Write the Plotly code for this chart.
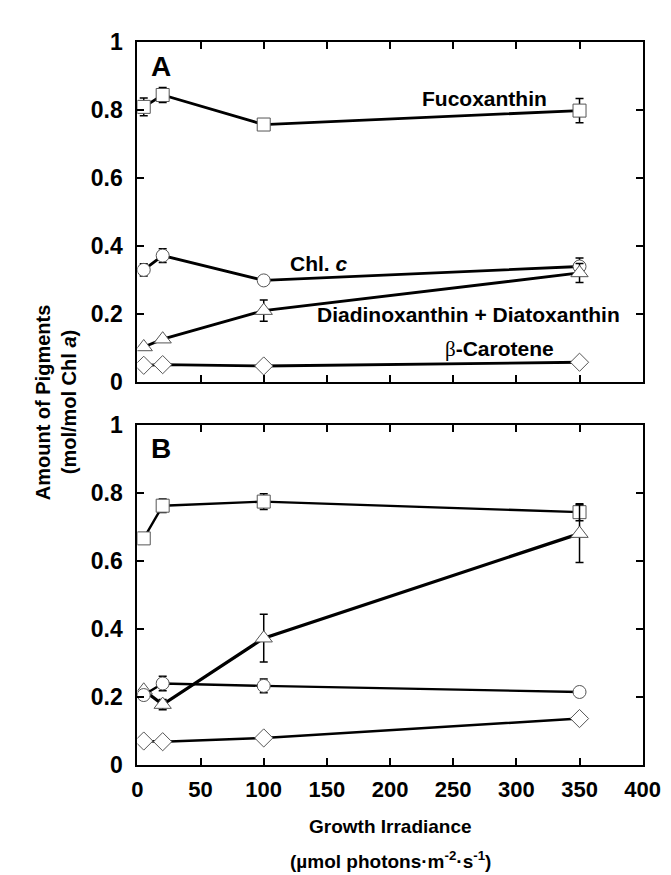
import plotly.graph_objects as go

irradiance = [5, 20, 100, 350]

# Panel A
a_fuco = [0.81, 0.845, 0.758, 0.799]
a_fuco_err = [0.026, 0.022, 0.0, 0.036]
a_chlc = [0.330, 0.372, 0.299, 0.340]
a_chlc_err = [0.018, 0.020, 0.0, 0.025]
a_dd = [0.103, 0.126, 0.210, 0.321]
a_dd_err = [0.0, 0.0, 0.031, 0.028]
a_beta = [0.049, 0.051, 0.047, 0.058]

# Panel B
b_fuco = [0.666, 0.762, 0.774, 0.743]
b_fuco_err = [0.0, 0.02, 0.023, 0.025]
b_dd = [0.220, 0.178, 0.373, 0.680]
b_dd_err = [0.0, 0.015, 0.07, 0.085]
b_chlc = [0.206, 0.240, 0.233, 0.215]
b_chlc_err = [0.0, 0.021, 0.02, 0.0]
b_beta = [0.071, 0.069, 0.080, 0.137]

FONT = "Liberation Sans, Arial, sans-serif"
W, H = 671, 875
xd = [128 / W, 652 / W]
yA = [1 - 372 / H, 1 - 22 / H]
yB = [1 - 767 / H, 1 - 416 / H]

fig = go.Figure()

def add(x, y, err, sym, size, axis, lw=2.8):
    xa, ya = axis
    kw = {}
    if err is not None:
        kw["error_y"] = dict(type="data", array=err, visible=True, color="black",
                             thickness=1.5, width=4)
    fig.add_trace(go.Scatter(
        x=x, y=y, mode="lines+markers", xaxis=xa, yaxis=ya,
        line=dict(color="black", width=lw),
        marker=dict(symbol=sym, size=size, color="white",
                    line=dict(color="#555555", width=1)),
        showlegend=False, **kw))

A = ("x", "y")
B = ("x2", "y2")
add(irradiance, a_fuco, a_fuco_err, "square", 13, A)
add(irradiance, a_chlc, a_chlc_err, "circle", 13, A)
add(irradiance, a_dd, a_dd_err, "triangle-up", 15, A)
add(irradiance, a_beta, None, "diamond", 14, A)

add(irradiance, b_fuco, b_fuco_err, "square", 13, B, 2.4)
add(irradiance, b_dd, b_dd_err, "triangle-up", 15, B, 3.2)
add(irradiance, b_chlc, b_chlc_err, "circle", 13, B, 2.4)
add(irradiance, b_beta, None, "diamond", 14, B, 2.4)

xtickfont = dict(family=FONT, size=22, color="black", weight="bold")
ytickfont = dict(family=FONT, size=23, color="black", weight="bold")
axcommon = dict(range=[0, 400], tickvals=[0, 50, 100, 150, 200, 250, 300, 350, 400],
                showline=True, linecolor="black", linewidth=2, mirror="ticks",
                ticks="inside", ticklen=7, tickwidth=2, tickcolor="black",
                showgrid=False, zeroline=False, tickfont=xtickfont, domain=xd,
                ticklabelstandoff=3)
aycommon = dict(range=[0, 1], tickvals=[0, 0.2, 0.4, 0.6, 0.8, 1],
                ticktext=["0", "0.2", "0.4", "0.6", "0.8", "1"],
                showline=True, linecolor="black", linewidth=2, mirror="ticks",
                ticks="inside", ticklen=7, tickwidth=2, tickcolor="black",
                showgrid=False, zeroline=False, tickfont=ytickfont,
                ticklabelstandoff=8)

fig.update_layout(
    width=W, height=H, autosize=False,
    margin=dict(l=0, r=0, t=0, b=0),
    paper_bgcolor="white", plot_bgcolor="white",
    xaxis=dict(anchor="y", showticklabels=False, **axcommon),
    yaxis=dict(anchor="x", domain=yA, **aycommon),
    xaxis2=dict(anchor="y2", showticklabels=True, **axcommon),
    yaxis2=dict(anchor="x2", domain=yB, **aycommon),
)

def ann(text, x, y, xref, yref, size=19, **kw):
    fig.add_annotation(text=text, x=x, y=y, xref=xref, yref=yref, showarrow=False,
                       xanchor="center", yanchor="middle",
                       font=dict(family=FONT, size=size, color="black"), **kw)

ann("<b>A</b>", 19, 0.93, "x", "y", size=28)
ann("<b>B</b>", 19, 0.93, "x2", "y2", size=28)
ann("<b>Fucoxanthin</b>", 275, 0.835, "x", "y", size=21)
ann("<b>Chl. <i>c</i></b>", 144, 0.35, "x", "y", size=21)
ann("<b>Diadinoxanthin + Diatoxanthin</b>", 262, 0.2, "x", "y", size=21)
ann("<span style='font-family:Liberation Serif'>β</span><b>-Carotene</b>", 287, 0.098, "x", "y", size=21)

ann("<b>Amount of Pigments</b>", 30 / W, 1 - 393 / H, "paper", "paper", size=20, textangle=-90)
ann("<b>(mol/mol Chl <i>a</i>)</b>", 57 / W, 1 - 393 / H, "paper", "paper", size=20, textangle=-90)
ann("<b>Growth Irradiance</b>", 390 / W, 1 - 830 / H, "paper", "paper", size=19)
ann("<b>(µmol photons·m<sup>-2</sup>·s<sup>-1</sup>)</b>", 390 / W, 1 - 865 / H, "paper", "paper", size=19)

fig.write_html("out.html")
